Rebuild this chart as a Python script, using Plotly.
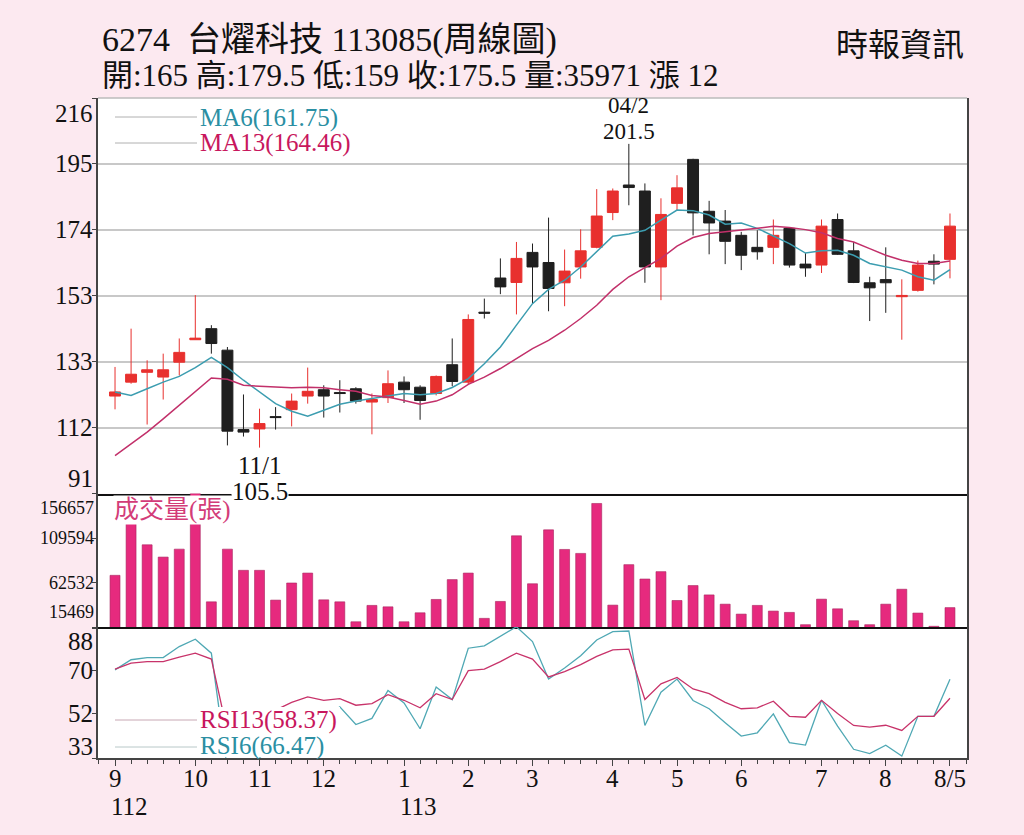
import plotly.graph_objects as go
from plotly.subplots import make_subplots

# weekly candles, week 0 = first week of 112/9, week 52 = 113/8/5
weeks = list(range(53))

opens = [121.8, 126.2, 129.3, 127.8, 132.5, 139.6, 143.1, 136.3, 111.2, 111.4,
         115.3, 117.5, 121.8, 123.8, 122.9, 124.1, 119.9, 121.3, 126.2, 124.6,
         122.6, 131.7, 126.2, 148.3, 159.1, 157.7, 167.2, 164.0, 157.6, 162.6,
         168.8, 179.8, 188.5, 186.6, 162.6, 182.7, 196.6, 180.2, 177.1, 172.6,
         168.8, 168.8, 174.8, 163.5, 163.2, 177.6, 167.7, 157.6, 158.6, 153.2,
         155.2, 164.4, 165]
highs = [131.0, 143.1, 133.1, 135.2, 140.0, 153.7, 144.2, 137.3, 122.3, 117.8,
         118.3, 122.6, 130.8, 125.2, 126.8, 124.6, 122.6, 129.9, 128.0, 125.2,
         128.3, 140.0, 147.6, 152.6, 165.3, 170.5, 170.0, 178.2, 168.1, 174.5,
         187.2, 187.4, 201.5, 189.0, 184.3, 191.6, 196.8, 183.5, 180.6, 173.7,
         174.2, 177.6, 175.0, 167.0, 177.6, 179.5, 170.5, 159.5, 168.8, 158.7,
         164.6, 166.6, 179.5]
lows = [117.6, 125.7, 112.8, 120.7, 128.3, 139.6, 135.2, 106.2, 109.0, 105.5,
        111.2, 112.2, 119.4, 115.0, 116.6, 119.4, 109.7, 119.6, 119.6, 114.3,
        122.0, 124.9, 125.6, 146.3, 154.0, 147.6, 151.2, 148.6, 150.2, 158.9,
        168.5, 177.4, 182.1, 157.6, 152.1, 180.6, 172.6, 166.6, 163.5, 161.6,
        164.9, 163.5, 162.4, 159.5, 160.7, 166.4, 157.5, 145.5, 148.1, 139.6,
        154.8, 157.1, 159]
closes = [123.1, 128.7, 130.1, 130.1, 135.6, 140.1, 138.4, 110.7, 110.4, 113.1,
          115.0, 120.2, 123.3, 121.8, 122.6, 120.2, 120.7, 125.7, 123.8, 120.4,
          128.0, 126.4, 146.0, 148.0, 156.3, 165.3, 162.6, 155.8, 161.3, 167.7,
          178.7, 186.6, 187.7, 162.6, 179.2, 187.6, 179.7, 176.5, 170.7, 166.3,
          167.4, 172.6, 163.2, 162.3, 175.5, 166.6, 157.7, 156.0, 157.6, 153.6,
          163.2, 163.5, 175.5]
volumes = [70100, 125000, 102400, 89400, 97800, 156657, 42100, 97800, 75400, 75400,
           43900, 62000, 72500, 44200, 42100, 21000, 38300, 36800, 21000, 30500,
           44600, 65600, 72500, 24600, 42500, 111900, 61200, 118200, 97500, 93300,
           146100, 38600, 81400, 66200, 74000, 43500, 59300, 49400, 39600, 29100,
           38300, 32300, 30900, 17900, 44900, 34700, 22100, 17900, 39600, 55400,
           30200, 16200, 35971]
ma6 = [123.1, 122.0, 124.1, 126.2, 128.0, 130.8, 134.0, 130.8, 126.8, 123.1,
       119.4, 117.0, 115.4, 117.3, 119.2, 120.2, 121.0, 122.0, 122.6, 122.2,
       122.6, 124.5, 127.3, 132.0, 137.3, 144.2, 151.0, 155.5, 158.4, 162.6,
       167.4, 172.3, 173.0, 174.2, 177.4, 180.6, 180.4, 179.0, 176.1, 176.5,
       174.8, 172.3, 170.0, 167.0, 167.7, 167.9, 166.3, 163.7, 162.6, 161.6,
       159.5, 158.4, 161.75]
ma13 = [103.0, 106.7, 110.4, 114.6, 118.8, 123.1, 127.5, 127.1, 125.2, 124.9,
        124.6, 124.4, 124.6, 124.4, 123.8, 123.3, 122.0, 121.5, 120.4, 119.2,
        120.2, 122.2, 125.5, 127.8, 130.5, 133.6, 136.8, 139.4, 142.6, 146.3,
        150.5, 155.5, 159.5, 162.4, 165.3, 169.2, 171.9, 173.2, 173.7, 174.2,
        174.8, 175.5, 175.1, 174.4, 173.4, 171.6, 170.5, 168.4, 166.3, 164.7,
        163.7, 163.7, 164.46]
rsi6 = [70.4, 74.7, 75.6, 75.6, 80.3, 83.4, 77.5, 28.0, 26.0, 33.0,
        40.0, 44.0, 50.0, 50.0, 54.7, 47.2, 49.8, 61.7, 56.4, 45.4,
        63.1, 57.8, 79.6, 80.6, 84.5, 88.7, 82.4, 66.5, 71.2, 76.4,
        83.1, 86.6, 86.9, 46.8, 60.9, 66.5, 57.4, 53.9, 48.0, 42.3,
        43.7, 51.7, 39.5, 38.5, 57.5, 46.5, 36.7, 34.9, 38.4, 33.8,
        50.7, 50.7, 66.47]
rsi13 = [70.7, 73.3, 73.9, 73.9, 75.8, 77.5, 75.0, 44.0, 43.0, 48.0,
         53.3, 56.6, 58.9, 57.5, 58.2, 55.4, 56.1, 59.9, 57.5, 54.3,
         60.3, 57.8, 70.1, 70.7, 73.9, 77.5, 75.0, 67.4, 69.7, 72.6,
         76.1, 78.9, 79.2, 57.8, 64.5, 67.2, 62.3, 60.3, 56.6, 53.9,
         54.3, 57.1, 50.7, 50.3, 57.5, 51.9, 46.8, 46.1, 46.9, 44.7,
         50.7, 50.7, 58.37]

month_pos = [0, 5, 9, 13, 18, 22, 26, 31, 35, 39, 44, 48, 52]
month_text = ['9', '10', '11', '12', '1', '2', '3', '4', '5', '6', '7', '8', '8/5']
year_pos = [0, 18]
year_text = ['112', '113']

price_ticks = [91, 111.83, 132.67, 153.5, 174.33, 195.17, 216]
price_text = ['91', '112', '133', '153', '174', '195', '216']
vol_ticks = [15469, 62532, 109594, 156657]
rsi_ticks = [33, 52, 70, 88]

FONT = 'Liberation Serif, Noto Sans CJK TC, serif'
RED = '#E8302E'
BLACK = '#1F1F1F'
TEAL = '#3C9DB0'
MAGENTA = '#C2306A'
BAR = '#E62A7E'
BG = '#FCE9F0'

W, H = 1024, 835
ML, MR, MT, MB = 98, 57, 98, 77


def px(x):
    return (x - ML) / (W - ML - MR)


def py(y):
    return (H - MB - y) / (H - MT - MB)


fig = make_subplots(rows=3, cols=1, shared_xaxes=True, vertical_spacing=0)

fig.add_trace(go.Candlestick(
    x=weeks, open=opens, high=highs, low=lows, close=closes,
    increasing=dict(fillcolor=RED, line=dict(color=RED, width=1)),
    decreasing=dict(fillcolor=BLACK, line=dict(color=BLACK, width=1)),
    whiskerwidth=0), row=1, col=1)
fig.add_trace(go.Scatter(x=weeks, y=ma6, mode='lines',
                         line=dict(color=TEAL, width=1.5)), row=1, col=1)
fig.add_trace(go.Scatter(x=weeks, y=ma13, mode='lines',
                         line=dict(color=MAGENTA, width=1.5)), row=1, col=1)

fig.add_trace(go.Bar(x=weeks, y=volumes, width=0.62,
                     marker=dict(color=BAR, line=dict(color='#A8235E', width=0.6))),
              row=2, col=1)

fig.add_trace(go.Scatter(x=weeks, y=rsi6, mode='lines',
                         line=dict(color='#4FA8B4', width=1.3)), row=3, col=1)
fig.add_trace(go.Scatter(x=weeks, y=rsi13, mode='lines',
                         line=dict(color='#C8336A', width=1.3)), row=3, col=1)

xr = [-1.06, 53.06]
xbase = dict(range=xr, showgrid=False, zeroline=False, showline=True,
             linecolor='#111', linewidth=1.5, fixedrange=True)
ybase = dict(showticklabels=False, ticks='outside', ticklen=4, tickcolor='#444',
             zeroline=False, showline=True, linecolor='#444', linewidth=1.5,
             mirror=True, fixedrange=True)

fig.update_layout(
    width=W, height=H, margin=dict(l=ML, r=MR, t=MT, b=MB),
    paper_bgcolor=BG, plot_bgcolor='white', showlegend=False,
    font=dict(family=FONT, size=25, color='#111'),
    boxgap=0.32, boxgroupgap=0,
    xaxis=dict(xbase, showticklabels=False, rangeslider=dict(visible=False)),
    xaxis2=dict(xbase, showticklabels=False),
    xaxis3=dict(xbase, tickvals=month_pos, showticklabels=False, ticks='outside',
                ticklen=6, tickcolor='#444', linecolor='#444',
                minor=dict(tickmode='linear', tick0=0, dtick=1, ticks='outside',
                           ticklen=4, tickcolor='#444')),
    yaxis=dict(ybase, domain=[py(493.5), 1], range=[91, 216], tickvals=price_ticks,
               showgrid=True, gridcolor='#C8C8C8', gridwidth=1.5),
    yaxis2=dict(ybase, domain=[py(627), py(493.5)], range=[15469, 156657],
                tickvals=vol_ticks, showgrid=False),
    yaxis3=dict(ybase, domain=[0, py(627)], range=[33, 88.6],
                tickvals=rsi_ticks, showgrid=False),
)


def label(x, y, text, size=25, color='#111', xanchor='left', **kw):
    return dict(xref='paper', yref='paper', x=px(x), y=py(y), xanchor=xanchor,
                yanchor='middle', text=text, showarrow=False,
                font=dict(size=size, color=color), **kw)


ann = []
# y tick labels (edge labels pulled inside like the original)
for v, t in zip(price_ticks, price_text):
    shift = -15 if v == price_ticks[-1] else (15 if v == price_ticks[0] else 0)
    ann.append(dict(xref='paper', x=0, xanchor='right', xshift=-3, yref='y', y=v,
                    yanchor='middle', yshift=shift, text=t, showarrow=False,
                    font=dict(size=25)))
for v in vol_ticks:
    shift = -14 if v == vol_ticks[-1] else (15 if v == vol_ticks[0] else 0)
    ann.append(dict(xref='paper', x=0, xanchor='right', xshift=-2, yref='y2', y=v,
                    yanchor='middle', yshift=shift, text=str(v), showarrow=False,
                    font=dict(size=18)))
for v in rsi_ticks:
    shift = -13 if v == rsi_ticks[-1] else (12 if v == rsi_ticks[0] else 0)
    ann.append(dict(xref='paper', x=0, xanchor='right', xshift=-3, yref='y3', y=v,
                    yanchor='middle', yshift=shift, text=str(v), showarrow=False,
                    font=dict(size=25)))

# month and year labels under the time axis
for p, t in zip(month_pos, month_text):
    ann.append(dict(xref='x3', x=p, xanchor='center', yref='paper', y=py(778),
                    yanchor='middle', text=t, showarrow=False, font=dict(size=25)))
for p, t in zip(year_pos, year_text):
    ann.append(dict(xref='x3', x=p, xanchor='left', xshift=-6, yref='paper',
                    y=py(806), yanchor='middle', text=t, showarrow=False,
                    font=dict(size=25)))

# header
chg = closes[-1] - closes[-2]
ann.append(label(100, 40.5, '6274  台燿科技 113085(周線圖)', size=34))
ann.append(label(100, 76, f'開:{opens[-1]:g} 高:{highs[-1]:g} 低:{lows[-1]:g} '
                          f'收:{closes[-1]:g} 量:{volumes[-1]} 漲 {chg:g}', size=31))
ann.append(label(966, 45, '時報資訊', size=32, xanchor='right'))

# MA / RSI legends
ann.append(label(198, 118, f'MA6({ma6[-1]:.2f})', color='#2B8FA3'))
ann.append(label(198, 143, f'MA13({ma13[-1]:.2f})', color='#C8175D'))
ann.append(label(198, 720, f'RSI13({rsi13[-1]:.2f})', color='#C8175D'))
ann.append(label(198, 746, f'RSI6({rsi6[-1]:.2f})', color='#2B8FA3'))

# volume label
ann.append(label(113, 510, '成交量(張)', color='#D33C78', bgcolor='white',
                 borderpad=0))

# high / low marks
hi = highs.index(max(highs))
lo = lows.index(min(lows))
ann.append(dict(xref='x', yref='y', x=hi, y=highs[hi], yanchor='bottom', yshift=-2,
                text=f'{highs[hi]:g}', showarrow=False, font=dict(size=23)))
ann.append(dict(xref='x', yref='y', x=hi, y=highs[hi], yanchor='bottom', yshift=24,
                text='04/2', showarrow=False, font=dict(size=23)))
ann.append(dict(xref='x', yref='y', x=lo, y=lows[lo], yanchor='top', yshift=-2,
                text='11/1', showarrow=False, font=dict(size=25)))
ann.append(dict(xref='x', yref='y', x=lo, y=lows[lo], yanchor='top', yshift=-29,
                text=f'{lows[lo]:g}', showarrow=False, bgcolor='white',
                borderpad=0, font=dict(size=25)))

fig.update_layout(annotations=ann)

shapes = [
    dict(type='line', xref='paper', yref='paper', x0=0, x1=1, y0=1, y1=1,
         line=dict(color='#BBBBBB', width=1.5)),
    dict(type='line', xref='paper', yref='paper', x0=px(115), x1=px(197),
         y0=py(117), y1=py(117), line=dict(color='#B0B0B0', width=1)),
    dict(type='line', xref='paper', yref='paper', x0=px(115), x1=px(197),
         y0=py(143), y1=py(143), line=dict(color='#B0B0B0', width=1)),
    dict(type='rect', xref='paper', yref='paper', x0=px(198), x1=px(340),
         y0=py(757.3), y1=py(707), fillcolor='white', line=dict(width=0),
         layer='above'),
    dict(type='line', xref='paper', yref='paper', x0=px(115), x1=px(197),
         y0=py(720), y1=py(720), line=dict(color='#C8A8B4', width=1)),
    dict(type='line', xref='paper', yref='paper', x0=px(115), x1=px(197),
         y0=py(747), y1=py(747), line=dict(color='#B8C8C8', width=1)),
]
fig.update_layout(shapes=shapes)

fig.write_html("out.html", config={'displayModeBar': False}, post_script=(
    "document.body.style.margin='0';"
    "document.body.style.background='" + BG + "';"))
